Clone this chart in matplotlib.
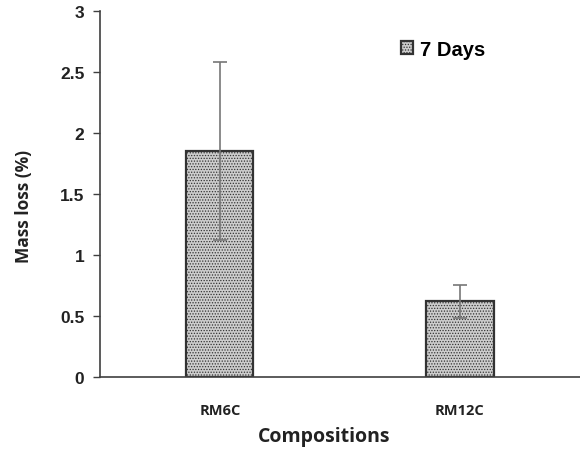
import matplotlib
matplotlib.use("Agg")
import matplotlib.pyplot as plt
import numpy as np

compositions = ["RM6C", "RM12C"]
mass_loss = [1.85, 0.62]
mass_loss_err = [0.73, 0.135]

plt.rcParams["font.family"] = ["Liberation Sans", "DejaVu Sans"]
plt.rcParams["hatch.color"] = "#8a8a8a"
plt.rcParams["hatch.linewidth"] = 0.6

fig = plt.figure(figsize=(5.8, 4.52), dpi=100)
ax = fig.add_axes([0.172, 0.164, 0.828, 0.809])

x = np.arange(len(compositions))
ax.bar(x, mass_loss, width=0.28, color="#cdcdcd", edgecolor="#333333",
       linewidth=1.6, hatch="......", label="7 Days", zorder=2)
ax.errorbar(x, mass_loss, yerr=mass_loss_err, fmt="none", ecolor="#777777",
            elinewidth=1.2, capsize=5, capthick=1.2, zorder=3)

ax.set_xlim(-0.5, 1.5)
ax.set_ylim(0, 3)
ax.set_yticks(np.arange(0, 3.01, 0.5))
ax.set_yticklabels(["0", "0.5", "1", "1.5", "2", "2.5", "3"])
ax.set_xticks(x)
ax.set_xticklabels(compositions)

for s in ["top", "right"]:
    ax.spines[s].set_visible(False)
for s in ["left", "bottom"]:
    ax.spines[s].set_color("#404040")
    ax.spines[s].set_linewidth(1.2)

ax.tick_params(axis="y", direction="out", length=5, width=1, color="#404040",
               labelsize=12.5, pad=6)
ax.tick_params(axis="x", length=0, pad=19)
for lab in ax.get_yticklabels():
    lab.set_fontweight("bold")
    lab.set_color("#222222")
for lab in ax.get_xticklabels():
    lab.set_fontweight("bold")
    lab.set_color("#222222")
    lab.set_fontsize(10.5)
    lab.set_family(["Open Sans", "DejaVu Sans"])

ax.set_ylabel("Mass loss (%)", fontsize=12.5, fontweight="bold", color="#222222",
              family=["Open Sans", "DejaVu Sans"])
ax.yaxis.set_label_coords(-0.14, 0.47)
ax.set_xlabel("Compositions", fontsize=14, fontweight="bold", color="#222222",
              family=["Open Sans", "DejaVu Sans"])
ax.xaxis.set_label_coords(0.467, -0.135)

leg = ax.legend(loc="upper right", bbox_to_anchor=(0.84, 0.971), frameon=False,
                handlelength=0.6, handleheight=0.6, handletextpad=0.35,
                prop={"weight": "bold", "size": 14.5})

fig.savefig("out.png", dpi=100)
